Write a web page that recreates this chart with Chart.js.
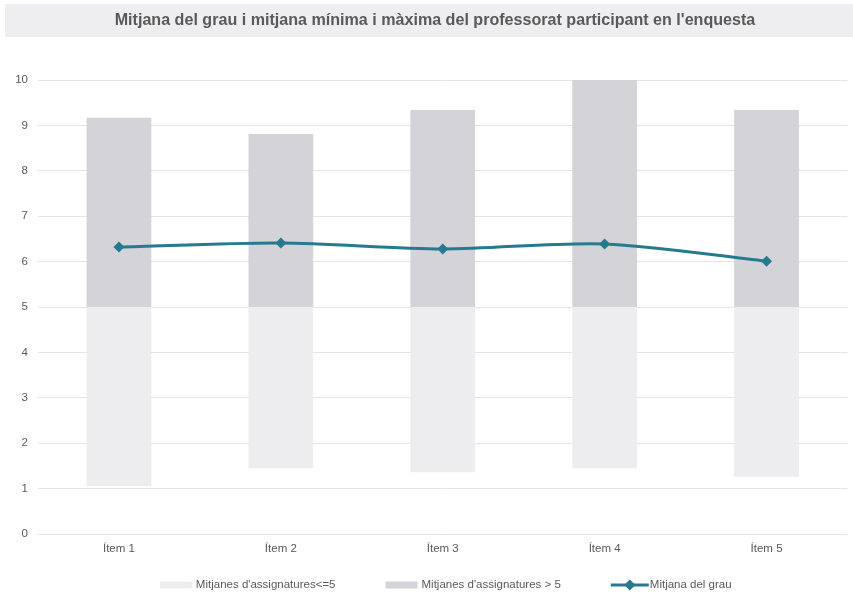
<!DOCTYPE html>
<html>
<head>
<meta charset="utf-8">
<script src="https://cdn.jsdelivr.net/npm/chart.js@4/dist/chart.umd.min.js"></script>
<style>
html,body{margin:0;padding:0;background:#fff;}
#wrap{position:relative;width:853px;height:592px;}
</style>
</head>
<body>
<div id="wrap"><canvas id="c" width="853" height="592"></canvas></div>
<script>
const chartTitle = "Mitjana del grau i mitjana mínima i màxima del professorat participant en l'enquesta";
const categories = ['Ítem 1', 'Ítem 2', 'Ítem 3', 'Ítem 4', 'Ítem 5'];
const threshold = 5;
const minMeans = [1.05, 1.45, 1.36, 1.45, 1.26];
const maxMeans = [9.17, 8.81, 9.34, 10.0, 9.34];
const degreeMean = [6.32, 6.41, 6.28, 6.39, 6.01];
const yTicks = [0, 1, 2, 3, 4, 5, 6, 7, 8, 9, 10];
const seriesNames = ["Mitjanes d'assignatures<=5", "Mitjanes d'assignatures > 5", "Mitjana del grau"];

const FONT = "'Liberation Sans', Arial, sans-serif";
const TXT = '#595959';

const titleBand = {
  id: 'titleBand',
  beforeDraw(chart) {
    const ctx = chart.ctx;
    ctx.save();
    ctx.fillStyle = '#eeeef0';
    ctx.fillRect(5, 4, 848, 33);
    ctx.fillStyle = TXT;
    ctx.font = "bold 16.1px " + FONT;
    ctx.textAlign = 'center';
    ctx.textBaseline = 'middle';
    ctx.fillText(chartTitle, 435, 21);
    ctx.restore();
  }
};

const customLegend = {
  id: 'customLegend',
  afterDraw(chart) {
    const ctx = chart.ctx;
    const ds = chart.data.datasets;
    ctx.save();
    ctx.font = "11.5px " + FONT;
    const boxW = 32, gapTxt = 4, lineW = 38, lineGap = 1, gapItem = 50;
    const widths = ds.map(d => (d.type === 'line' ? lineW + lineGap : boxW + gapTxt) + ctx.measureText(d.label).width);
    const total = widths.reduce((a, b) => a + b, 0) + gapItem * (ds.length - 1);
    const cx = (chart.chartArea.left + chart.chartArea.right) / 2 + 3;
    let x = cx - total / 2;
    const y = 585;
    ds.forEach((d, i) => {
      let tx;
      if (d.type === 'line') {
        ctx.strokeStyle = d.borderColor;
        ctx.lineWidth = 3;
        ctx.beginPath();
        ctx.moveTo(x, y);
        ctx.lineTo(x + lineW, y);
        ctx.stroke();
        ctx.fillStyle = d.borderColor;
        ctx.beginPath();
        const r = 5.5;
        const mx = x + lineW / 2;
        ctx.moveTo(mx, y - r);
        ctx.lineTo(mx + r, y);
        ctx.lineTo(mx, y + r);
        ctx.lineTo(mx - r, y);
        ctx.closePath();
        ctx.fill();
        tx = x + lineW + lineGap;
      } else {
        ctx.fillStyle = d.backgroundColor;
        ctx.fillRect(x, y - 3.5, boxW, 7);
        tx = x + boxW + gapTxt;
      }
      ctx.fillStyle = TXT;
      ctx.textAlign = 'left';
      ctx.textBaseline = 'middle';
      ctx.fillText(d.label, tx, y);
      x += widths[i] + gapItem;
    });
    ctx.restore();
  }
};

new Chart(document.getElementById('c'), {
  data: {
    labels: categories,
    datasets: [
      {
        type: 'bar',
        label: seriesNames[0],
        data: categories.map((c, i) => [minMeans[i], threshold]),
        backgroundColor: '#ededef',
        grouped: false,
        barPercentage: 0.5,
        categoryPercentage: 0.8,
        order: 2
      },
      {
        type: 'bar',
        label: seriesNames[1],
        data: categories.map((c, i) => [threshold, maxMeans[i]]),
        backgroundColor: '#d4d4d8',
        grouped: false,
        barPercentage: 0.5,
        categoryPercentage: 0.8,
        order: 1
      },
      {
        type: 'line',
        label: seriesNames[2],
        data: degreeMean,
        borderColor: '#267a8f',
        backgroundColor: '#267a8f',
        borderWidth: 3,
        tension: 0.3,
        pointStyle: 'rectRot',
        pointRadius: 5.5,
        pointBorderWidth: 0,
        pointBackgroundColor: '#267a8f',
        order: 0
      }
    ]
  },
  options: {
    responsive: false,
    animation: false,
    devicePixelRatio: 1,
    layout: { padding: { top: 80, right: 4, left: 0, bottom: 0 } },
    plugins: {
      legend: { display: false },
      title: { display: false },
      tooltip: { enabled: false }
    },
    scales: {
      x: {
        grid: { display: false, drawTicks: false },
        border: { display: false },
        ticks: { color: TXT, font: { family: FONT, size: 11.5 }, padding: 8 },
        afterFit(s) { s.height = 58; }
      },
      y: {
        min: 0,
        max: 10,
        afterBuildTicks(s) { s.ticks = yTicks.map(v => ({ value: v })); },
        grid: { color: '#e4e4e6', drawTicks: false, lineWidth: 1 },
        border: { display: false },
        ticks: { color: TXT, font: { family: FONT, size: 11.5 }, padding: 10 },
        afterFit(s) { s.width = 38; }
      }
    }
  },
  plugins: [titleBand, customLegend]
});
</script>
</body>
</html>
